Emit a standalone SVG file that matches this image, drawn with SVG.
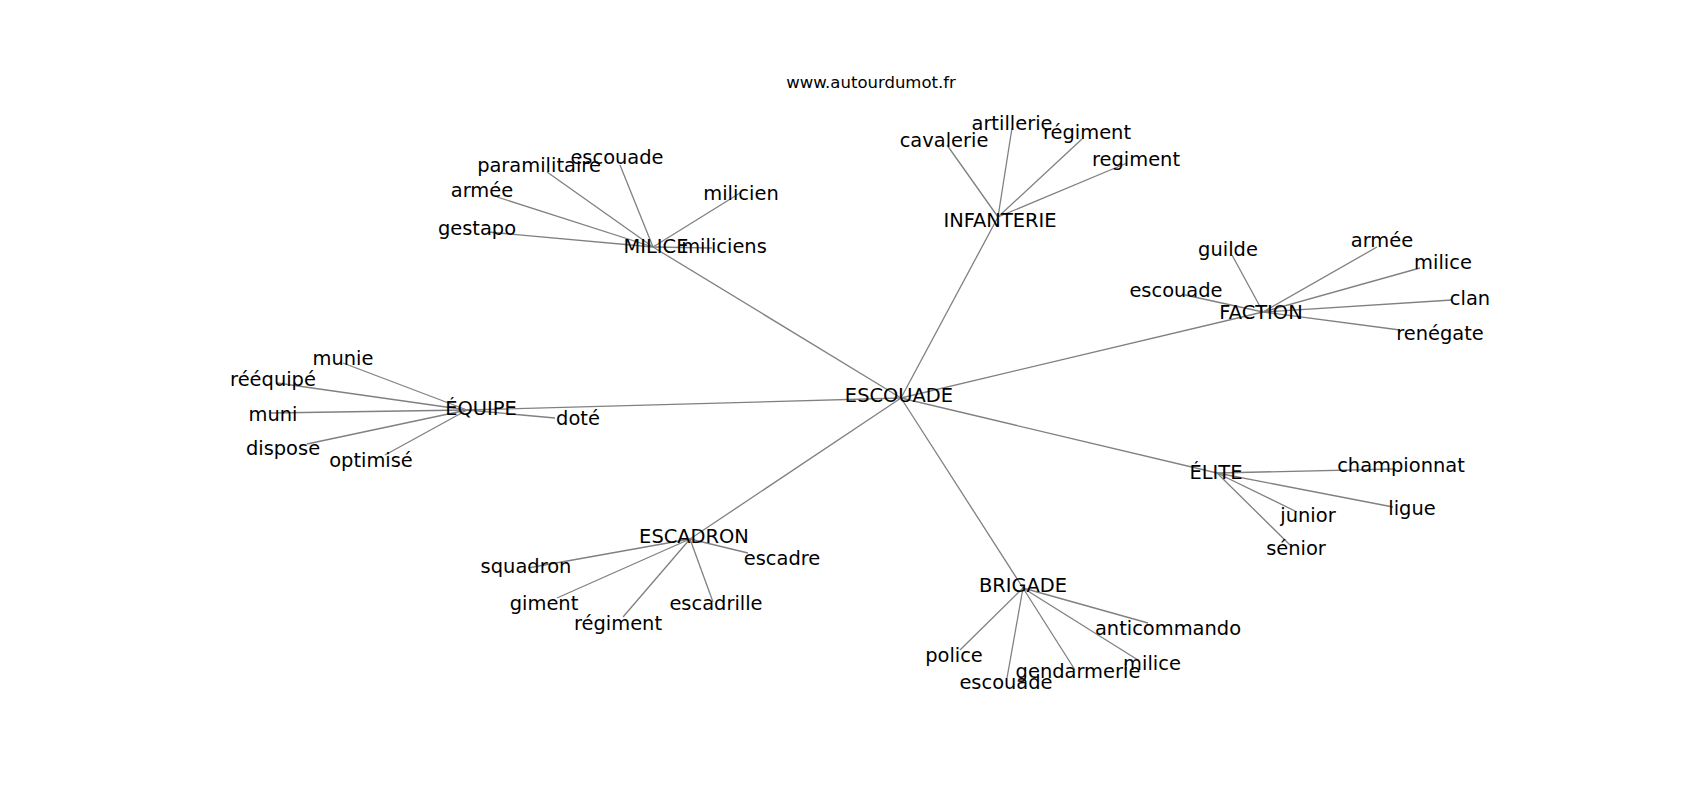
<svg xmlns="http://www.w3.org/2000/svg" width="1700" height="800" viewBox="0 0 1700 800">
<style>
text{font-family:"DejaVu Sans","Liberation Sans",sans-serif;font-size:19.44px;fill:#000;text-anchor:middle}
.title{font-size:16.5px}
#edges line{stroke:#808080;stroke-width:1.3}
</style>
<rect width="1700" height="800" fill="#fff"/>
<text class="title" x="871" y="88">www.autourdumot.fr</text>
<g id="edges">
<line x1="901" y1="398" x2="653" y2="247"/>
<line x1="901" y1="398" x2="998" y2="217"/>
<line x1="901" y1="398" x2="1263" y2="312"/>
<line x1="901" y1="398" x2="467" y2="410"/>
<line x1="901" y1="398" x2="1217" y2="473"/>
<line x1="901" y1="398" x2="690" y2="539"/>
<line x1="901" y1="398" x2="1023" y2="588"/>
<line x1="653" y1="247" x2="488" y2="232"/>
<line x1="653" y1="247" x2="497" y2="197"/>
<line x1="653" y1="247" x2="547" y2="172"/>
<line x1="653" y1="247" x2="620" y2="165"/>
<line x1="653" y1="247" x2="740" y2="193"/>
<line x1="653" y1="247" x2="712" y2="248"/>
<line x1="998" y1="217" x2="947" y2="145"/>
<line x1="998" y1="217" x2="1012" y2="128"/>
<line x1="998" y1="217" x2="1082" y2="139"/>
<line x1="998" y1="217" x2="1127" y2="163"/>
<line x1="1263" y1="312" x2="1232" y2="255"/>
<line x1="1263" y1="312" x2="1185" y2="295"/>
<line x1="1263" y1="312" x2="1377" y2="247"/>
<line x1="1263" y1="312" x2="1420" y2="268"/>
<line x1="1263" y1="312" x2="1452" y2="300"/>
<line x1="1263" y1="312" x2="1400" y2="330"/>
<line x1="467" y1="410" x2="343" y2="363"/>
<line x1="467" y1="410" x2="277" y2="383"/>
<line x1="467" y1="410" x2="270" y2="413"/>
<line x1="467" y1="410" x2="307" y2="444"/>
<line x1="467" y1="410" x2="385" y2="455"/>
<line x1="467" y1="410" x2="555" y2="418"/>
<line x1="1217" y1="473" x2="1395" y2="469"/>
<line x1="1217" y1="473" x2="1393" y2="507"/>
<line x1="1217" y1="473" x2="1297" y2="512"/>
<line x1="1217" y1="473" x2="1290" y2="545"/>
<line x1="690" y1="539" x2="528" y2="568"/>
<line x1="690" y1="539" x2="557" y2="598"/>
<line x1="690" y1="539" x2="623" y2="617"/>
<line x1="690" y1="539" x2="713" y2="602"/>
<line x1="690" y1="539" x2="748" y2="553"/>
<line x1="1023" y1="588" x2="960" y2="650"/>
<line x1="1023" y1="588" x2="1007" y2="678"/>
<line x1="1023" y1="588" x2="1075" y2="670"/>
<line x1="1023" y1="588" x2="1138" y2="660"/>
<line x1="1023" y1="588" x2="1148" y2="623"/>
</g>
<g id="n-escouade-center"><text x="899" y="402">ESCOUADE</text></g>
<g id="n-milice-hub"><text x="656" y="253">MILICE</text></g>
<g id="n-miliciens"><text x="724" y="253">miliciens</text></g>
<g id="n-gestapo"><text x="477" y="235">gestapo</text></g>
<g id="n-armee-1"><text x="482" y="197">armée</text></g>
<g id="n-paramilitaire"><text x="539" y="172">paramilitaire</text></g>
<g id="n-escouade-1"><text x="617" y="164">escouade</text></g>
<g id="n-milicien"><text x="741" y="200">milicien</text></g>
<g id="n-infanterie"><text x="1000" y="227">INFANTERIE</text></g>
<g id="n-cavalerie"><text x="944" y="147">cavalerie</text></g>
<g id="n-artillerie"><text x="1012" y="130">artillerie</text></g>
<g id="n-regiment-acc-1"><text x="1087" y="139">régiment</text></g>
<g id="n-regiment"><text x="1136" y="166">regiment</text></g>
<g id="n-faction"><text x="1261" y="319">FACTION</text></g>
<g id="n-guilde"><text x="1228" y="256">guilde</text></g>
<g id="n-armee-2"><text x="1382" y="247">armée</text></g>
<g id="n-milice-1"><text x="1443" y="269">milice</text></g>
<g id="n-escouade-2"><text x="1176" y="297">escouade</text></g>
<g id="n-clan"><text x="1470" y="305">clan</text></g>
<g id="n-renegate"><text x="1440" y="340">renégate</text></g>
<g id="n-equipe"><text x="481" y="415">ÉQUIPE</text></g>
<g id="n-munie"><text x="343" y="365">munie</text></g>
<g id="n-reequipe"><text x="273" y="386">rééquipé</text></g>
<g id="n-muni"><text x="273" y="421">muni</text></g>
<g id="n-dispose"><text x="283" y="455">dispose</text></g>
<g id="n-optimise"><text x="371" y="467">optimisé</text></g>
<g id="n-dote"><text x="578" y="425">doté</text></g>
<g id="n-elite"><text x="1216" y="479">ÉLITE</text></g>
<g id="n-championnat"><text x="1401" y="472">championnat</text></g>
<g id="n-ligue"><text x="1412" y="515">ligue</text></g>
<g id="n-junior"><text x="1308" y="522">junior</text></g>
<g id="n-senior"><text x="1296" y="555">sénior</text></g>
<g id="n-escadron"><text x="694" y="543">ESCADRON</text></g>
<g id="n-squadron"><text x="526" y="573">squadron</text></g>
<g id="n-escadre"><text x="782" y="565">escadre</text></g>
<g id="n-giment"><text x="544" y="610">giment</text></g>
<g id="n-escadrille"><text x="716" y="610">escadrille</text></g>
<g id="n-regiment-acc-2"><text x="618" y="630">régiment</text></g>
<g id="n-brigade"><text x="1023" y="592">BRIGADE</text></g>
<g id="n-anticommando"><text x="1168" y="635">anticommando</text></g>
<g id="n-police"><text x="954" y="662">police</text></g>
<g id="n-milice-2"><text x="1152" y="670">milice</text></g>
<g id="n-gendarmerie"><text x="1078" y="678">gendarmerie</text></g>
<g id="n-escouade-3"><text x="1006" y="689">escouade</text></g>
</svg>
